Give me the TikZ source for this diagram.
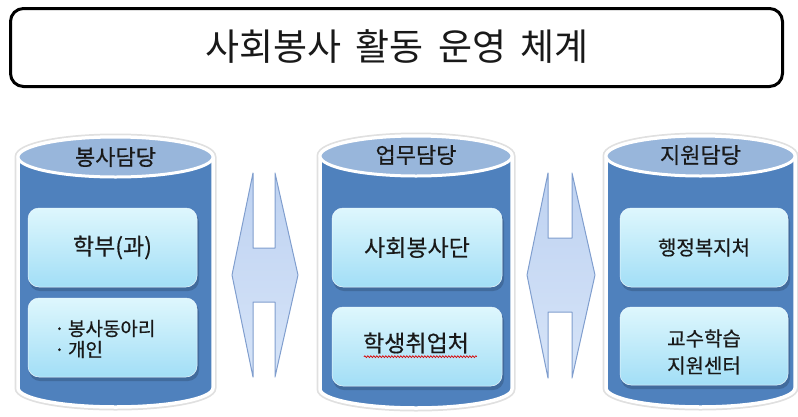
\documentclass[tikz,border=0pt]{standalone}
\usepackage{fontspec}
\setmainfont{Noto Sans CJK KR}
\newfontfamily\semifont[FakeBold=0.5]{Noto Sans CJK KR}
\usetikzlibrary{decorations.pathmorphing}
\definecolor{cylbody}{RGB}{79,129,189}
\definecolor{cyltop}{RGB}{152,182,219}
\definecolor{boxtop}{RGB}{222,247,253}
\definecolor{boxbot}{RGB}{162,222,246}
\definecolor{arrtop}{RGB}{190,210,241}
\definecolor{arrbot}{RGB}{214,228,248}
\definecolor{arrline}{RGB}{128,158,206}
\definecolor{txt}{RGB}{25,25,25}
\newcommand\drawcyl[4]{% left x, right x, top cy, bottom cy
  \pgfmathsetmacro\rx{(#2-#1)/2}
  \pgfmathsetmacro\cx{(#1+#2)/2}
  \path[draw=black!12,line width=7pt] (#1,#3) -- (#1,#4) arc[start angle=180,end angle=0,x radius=\rx,y radius=19] -- (#2,#3) arc[start angle=0,end angle=-180,x radius=\rx,y radius=20] -- cycle;
  \path[fill=cylbody,draw=white,line width=3.5pt] (#1,#3) -- (#1,#4) arc[start angle=180,end angle=0,x radius=\rx,y radius=19] -- (#2,#3) arc[start angle=0,end angle=-180,x radius=\rx,y radius=20] -- cycle;
  \path[fill=cyltop,draw=white,line width=3pt] (\cx,#3) ellipse[x radius=\rx,y radius=20];
}
\newcommand\dblarrow[9]{%
  \path[top color=arrtop,bottom color=arrbot,draw=arrline,line width=1pt,line join=round]
   (#2,#5) -- (#2,#6) -- (#3,#6) -- (#3,#5) -- (#4,#7) -- (#3,#9) -- (#3,#8) -- (#2,#8) -- (#2,#9) -- (#1,#7) -- cycle;
}
\newcommand\boxshadow[4]{%
  \path[fill=cylbody!70!black,opacity=0.55,rounded corners=11pt] (#1+1,#2+3) rectangle (#3+2,#4+4);
}
\begin{document}
\begin{tikzpicture}[x=1pt,y=-1pt,
  titlebox/.style={draw=black,line width=3pt,rounded corners=13pt,fill=white,minimum width=772pt,minimum height=78pt,inner sep=0pt},
  cyllabel/.style={text=txt,font=\semifont\fontsize{22}{24}\selectfont,inner sep=0pt},
  innerbox/.style={rounded corners=11pt,top color=boxtop,bottom color=boxbot,draw=white!80!boxbot,line width=0.5pt,inner sep=0pt,text=txt,align=center},
  bigtext/.style={font=\semifont\fontsize{23}{26}\selectfont},
  smalltext/.style={font=\semifont\fontsize{20}{27}\selectfont}]
\useasboundingbox (0,0) rectangle (798,416);

% title
\node[titlebox] (title) at (396.5,47.5) {};
\node[text=txt,font=\fontsize{37}{40}\selectfont,inner sep=0pt] (titletext) at (397,46) {사회봉사\hspace{14pt}활동\hspace{14pt}운영\hspace{14pt}체계};

% cylinders
\drawcyl{18}{213}{157}{388}
\drawcyl{320}{512}{156}{389}
\drawcyl{606}{795}{156}{388}

\node[cyllabel] (lab1) at (115.5,157) {봉사담당};
\node[cyllabel] (lab2) at (416,155) {업무담당};
\node[cyllabel] (lab3) at (700.5,155) {지원담당};

% inner boxes
\boxshadow{28}{208}{197}{287}
\node[innerbox,bigtext,minimum width=169pt,minimum height=79pt] (b11) at (112.5,247.5) {학부(과)};
\boxshadow{28}{298}{197}{377}
\node[innerbox,minimum width=169pt,minimum height=79pt] (b12) at (112.5,337.5) {};
\node[text=txt,align=left,anchor=west,font=\semifont\fontsize{19}{21}\selectfont,inner sep=0pt] (b12t) at (54,339) {·\,봉사동아리\\·\,개인};

\boxshadow{332}{208}{502}{287}
\node[innerbox,bigtext,minimum width=170pt,minimum height=79pt] (b21) at (417,247.5) {사회봉사단};
\boxshadow{332}{307}{502}{386}
\node[innerbox,bigtext,minimum width=170pt,minimum height=79pt] (b22) at (417,346.5) {};
\node[bigtext,text=txt,inner sep=0pt] (b22t) at (416,343) {학생취업처};
\draw[red!85!black,line width=0.7pt,decorate,decoration={snake,amplitude=0.9pt,segment length=3pt}] (b22t.south west) ++(1,3) -- ++(113,0);

\boxshadow{620}{208}{788}{287}
\node[innerbox,smalltext,minimum width=168pt,minimum height=79pt] (b31) at (704,247.5) {행정복지처};
\boxshadow{620}{307}{788}{385}
\node[innerbox,minimum width=168pt,minimum height=78pt] (b32) at (704,346) {};
\node[text=txt,align=center,font=\semifont\fontsize{20}{27}\selectfont,inner sep=0pt] (b32t) at (704,352) {교수학습\\지원센터};

% double arrows
\dblarrow{232}{253}{275}{298}{173}{248}{275}{302}{377}
\dblarrow{527}{548}{572}{595}{173}{238}{275}{312}{378}
\end{tikzpicture}
\end{document}
